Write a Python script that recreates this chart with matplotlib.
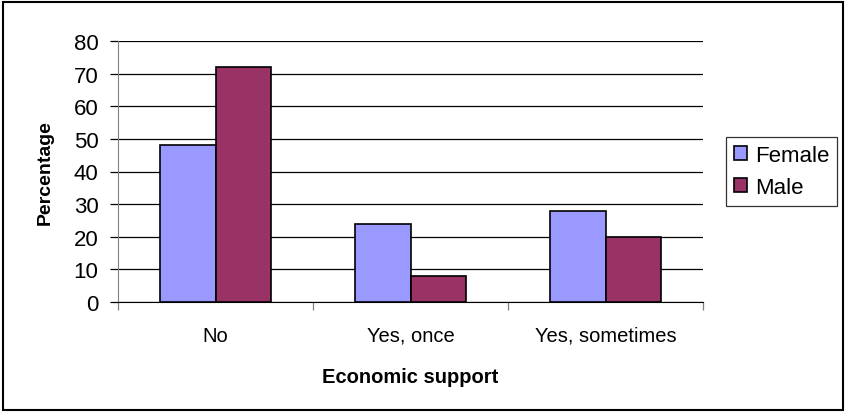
import numpy as np
import matplotlib.pyplot as plt
from matplotlib.patches import Rectangle

plt.rcParams['font.family'] = ['Liberation Sans', 'DejaVu Sans']

categories = ['No', 'Yes, once', 'Yes, sometimes']
female = [48, 24, 28]
male = [72, 8, 20]
yticks = [0, 10, 20, 30, 40, 50, 60, 70, 80]

fig = plt.figure(figsize=(8.46, 4.14), dpi=100)
ax = fig.add_axes([118 / 846, 1 - 303 / 414, 585 / 846, 261 / 414])

x = np.arange(len(categories))
w = 0.285
ax.bar(x - w / 2, female, w, color='#9999FF', edgecolor='black', linewidth=1.2, label='Female', zorder=3)
ax.bar(x + w / 2, male, w, color='#993366', edgecolor='black', linewidth=1.2, label='Male', zorder=3)

ax.set_xlim(-0.5, 2.5)
ax.set_ylim(0, 80)
ax.set_yticks(yticks)
ax.yaxis.grid(True, color='black', linewidth=0.9, zorder=0)
ax.tick_params(axis='y', labelsize=16, length=6, width=0.9, direction='out', pad=8)
ax.set_xticks([-0.5, 0.5, 1.5, 2.5])
ax.set_xticklabels([])
ax.set_xticks(x, minor=True)
ax.set_xticklabels(categories, minor=True)
ax.tick_params(axis='x', which='major', length=6, width=0.9, color='#808080')
ax.tick_params(axis='x', which='minor', length=0, labelsize=14.5, pad=17)

for s in ['top', 'right']:
    ax.spines[s].set_visible(False)
ax.spines['left'].set_color('#808080')
ax.spines['bottom'].set_color('black')

ax.set_ylabel('Percentage', fontsize=14, fontweight='bold', labelpad=14)
ax.set_xlabel('Economic support', fontsize=14.5, fontweight='bold', labelpad=16)

leg = ax.legend(loc='center left', bbox_to_anchor=(1.02, 0.5), fontsize=16, frameon=True,
                fancybox=False, edgecolor='black', handlelength=0.6, handleheight=0.6,
                handletextpad=0.35, borderpad=0.35, labelspacing=0.5)
leg.get_frame().set_linewidth(0.9)

fig.patches.append(Rectangle((3 / 846, 3 / 414), 840 / 846, 408 / 414, transform=fig.transFigure,
                             fill=False, edgecolor='black', linewidth=1.5))

fig.savefig('out.png', dpi=100)
